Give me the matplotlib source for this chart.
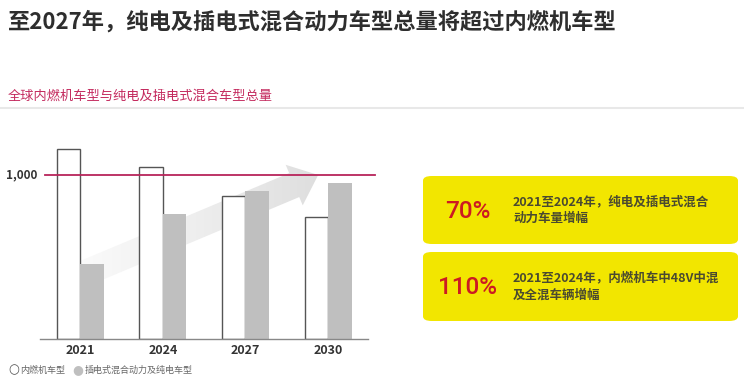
import numpy as np
import matplotlib.pyplot as plt
from matplotlib.patches import FancyArrowPatch, FancyBboxPatch, ArrowStyle
from matplotlib.colors import LinearSegmentedColormap

plt.rcParams['font.family'] = ['Noto Sans CJK SC', 'DejaVu Sans']

years = ['2021', '2024', '2027', '2030']
ice_total = [1160, 1047, 870, 746]
ev_total = [457, 760, 904, 953]
legend_labels = ['内燃机车型', '插电式混合动力及纯电车型']
callout_values = ['70%', '110%']
callout_texts = ['2021至2024年，纯电及插电式混合\n动力车量增幅',
                 '2021至2024年，内燃机车中48V中混\n及全混车辆增幅']

W, H = 744, 384
fig = plt.figure(figsize=(W / 100, H / 100), dpi=100)

def fx(px):
    return px / W

def fy(py):
    return 1 - py / H

# headings
fig.text(fx(8), fy(22), '至2027年，纯电及插电式混合动力车型总量将超过内燃机车型',
         fontsize=16, fontweight='bold', color='#2e2e2e', va='center')
fig.text(fx(8), fy(96), '全球内燃机车型与纯电及插电式混合车型总量',
         fontsize=9.5, color='#c42a5e', va='center')
fig.add_artist(plt.Line2D([0, 1], [fy(108), fy(108)], color='#e8e8e8', lw=1.5))

# bar chart
ax = fig.add_axes([fx(40), fy(339), fx(335), (339 - 125.8) / H])
ax.set_xlim(-0.488, 3.568)
ax.set_ylim(0, 1300)
ax.axis('off')

x = np.arange(len(years))
bw = 0.285

# gradient arrow behind bars
arrow = FancyArrowPatch((0.0, 390), (2.88, 1000),
                        arrowstyle=ArrowStyle('Simple', head_length=1.3,
                                              head_width=2.2, tail_width=1.3),
                        mutation_scale=20, shrinkA=0, shrinkB=0,
                        facecolor='none', edgecolor='none')
ax.add_patch(arrow)
grad = np.linspace(0, 1, 256).reshape(1, -1)
cmap = LinearSegmentedColormap.from_list('g', ['#fcfcfc', '#eeeeee', '#dddddd'])
img = ax.imshow(grad, extent=[-0.2, 3.0, 250, 1200], aspect='auto',
                cmap=cmap, zorder=0.5)
img.set_clip_path(arrow)

ax.bar(x - bw / 2, ice_total, bw, facecolor='white', edgecolor='#555555',
       lw=1, zorder=2)
ax.bar(x + bw / 2, ev_total, bw, facecolor='#bfbfbf', edgecolor='none', zorder=2)
ax.plot([-0.488, 3.48], [0, 0], color='#888888', lw=1, zorder=3, clip_on=False)
ax.plot([-0.427, 3.568], [1000, 1000], color='#b8245a', lw=1.3, zorder=3,
        clip_on=False)
for xi, yr in zip(x, years):
    ax.text(xi, -70, yr, ha='center', va='center', fontsize=9,
            fontweight='bold', color='#333333')
ax.text(-0.52, 1000, '1,000', ha='right', va='center', fontsize=8.5,
        fontweight='bold', color='#333333')

# legend
fig.text(fx(8), fy(370), '○', fontsize=9, color='#555555', va='center',
         family='DejaVu Sans')
fig.text(fx(20), fy(370), legend_labels[0], fontsize=6.5, color='#666666',
         va='center')
fig.text(fx(72), fy(370), '●', fontsize=9, color='#bfbfbf', va='center',
         family='DejaVu Sans')
fig.text(fx(85), fy(370), legend_labels[1], fontsize=6.5, color='#666666',
         va='center')

# callout boxes
boxes = [(176, 244), (252, 321)]
for (top, bottom), val, txt in zip(boxes, callout_values, callout_texts):
    fig.add_artist(FancyBboxPatch((fx(423), fy(bottom)), fx(315),
                                  (bottom - top) / H,
                                  boxstyle='round,pad=0,rounding_size=0.012',
                                  transform=fig.transFigure,
                                  facecolor='#f2e600', edgecolor='none'))
    cy = (top + bottom) / 2
    fig.text(fx(468), fy(cy + 1), val, ha='center', va='center', fontsize=17.5,
             fontweight='medium', color='#cc1a22',
             family=['Roboto', 'DejaVu Sans'])
    fig.text(fx(513), fy(cy), txt, ha='left', va='center', fontsize=9,
             fontweight='bold', color='#4a4a30', linespacing=1.35)

fig.savefig('out.png', dpi=100)
